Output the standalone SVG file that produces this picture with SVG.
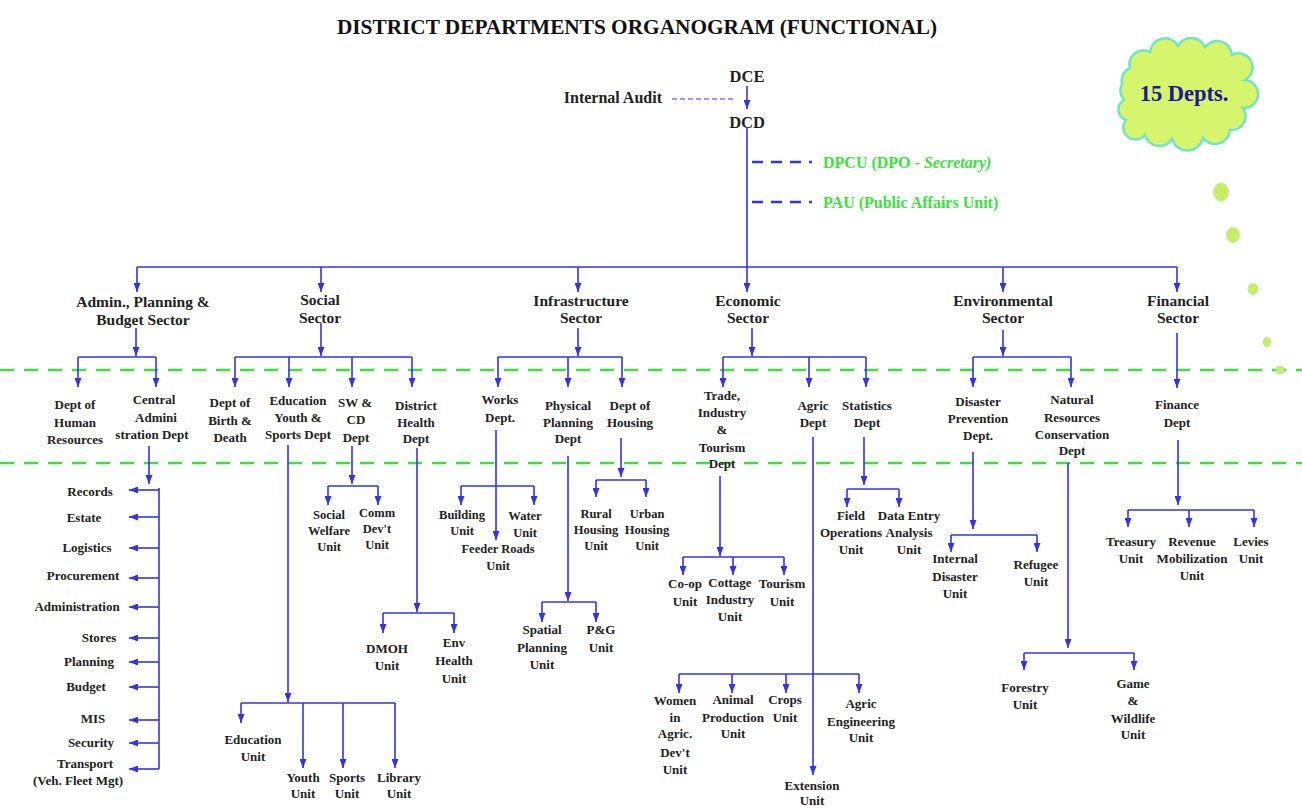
<svg xmlns="http://www.w3.org/2000/svg" width="1302" height="808" viewBox="0 0 1302 808">
<style>
.bg{fill:#fff}
.l{stroke:#3434e6;stroke-width:1.6;fill:none}
.a{marker-end:url(#ah)}
.dt{stroke:#3434e6;stroke-width:1.2;stroke-dasharray:5 3;fill:none}
.dk{stroke:#3434e6;stroke-width:2.4;stroke-dasharray:11 8;fill:none}
.band{stroke:#3ee03e;stroke-width:2.4;stroke-dasharray:14 10;fill:none}
text{font-family:"Liberation Serif","DejaVu Serif",serif;font-weight:bold;fill:#222}
.c{text-anchor:middle}
.r{text-anchor:end}
.ttl{font-size:21.3px;fill:#111}
.top{font-size:16.5px}
.ia{font-size:16px}
.s{font-size:15.5px}
.d{font-size:13px}
.u{font-size:12.5px}
.gr{font-size:16px;fill:#3ee03e}
.cl{fill:#d6f56c;stroke:#74e2c4;stroke-width:2.5}
.dot{fill:#c8ef5e;stroke:#b4ecb0;stroke-width:1}
.ct{font-size:22.5px;fill:#1a1a9a}
</style>
<defs>
<marker id="ah" markerUnits="userSpaceOnUse" markerWidth="9" markerHeight="7" viewBox="0 0 9 7" refX="9" refY="3.5" orient="auto"><path d="M0,0 L9,3.5 L0,7 z" fill="#3434e6"/></marker>
</defs>
<rect class="bg" x="0" y="0" width="1302" height="808"/>
<text class="ttl c" x="637" y="34">DISTRICT DEPARTMENTS ORGANOGRAM (FUNCTIONAL)</text>

<g id="bands">
<path class="band" d="M0,370 H1302"/>
<path class="band" d="M0,463 H1302"/>
</g>

<g id="cloud">
<path class="cl" d="M1124,100 A14,14 0 0 1 1122,84 A14,14 0 0 1 1130,68 A14,14 0 0 1 1150,52 A15,15 0 0 1 1178,46 A15,15 0 0 1 1205,47 A15,15 0 0 1 1232,55 A14,14 0 0 1 1245,80 A14,14 0 0 1 1243,108 A14,14 0 0 1 1230,130 A15,15 0 0 1 1203,138 A16,16 0 0 1 1172,139 A15,15 0 0 1 1145,135 A12,12 0 0 1 1126,120 A11,11 0 0 1 1124,100 Z"/>
<text class="ct c" x="1184" y="101">15 Depts.</text>
<ellipse class="dot" cx="1221" cy="192" rx="7.5" ry="9"/>
<ellipse class="dot" cx="1233" cy="235" rx="6.5" ry="7.5"/>
<ellipse class="dot" cx="1253" cy="289" rx="5" ry="5.5"/>
<ellipse class="dot" cx="1267" cy="342" rx="4" ry="4.5"/>
<ellipse class="dot" cx="1280" cy="370" rx="4" ry="4"/>
</g>

<g id="connectors">
<path class="l a" d="M747,86 V109"/>
<path class="dt" d="M672,99 H736"/>
<path class="l" d="M747,128 V267"/>
<path class="dk" d="M752,162 H812"/>
<path class="dk" d="M752,202 H812"/>
<path class="l" d="M137,267 H1177"/>
<path class="l a" d="M137,267 V292"/>
<path class="l a" d="M321,267 V292"/>
<path class="l a" d="M578,267 V292"/>
<path class="l a" d="M747,267 V292"/>
<path class="l a" d="M1003,267 V292"/>
<path class="l a" d="M1177,267 V292"/>

<path class="l a" d="M136,328 V356"/>
<path class="l" d="M78,357 H156"/>
<path class="l a" d="M78,357 V387"/>
<path class="l a" d="M156,357 V387"/>

<path class="l a" d="M321,323 V356"/>
<path class="l" d="M235,357 H412"/>
<path class="l a" d="M235,357 V387"/>
<path class="l a" d="M289,357 V387"/>
<path class="l a" d="M352,357 V387"/>
<path class="l a" d="M412,357 V387"/>

<path class="l a" d="M578,328 V356"/>
<path class="l" d="M498,357 H622"/>
<path class="l a" d="M498,357 V387"/>
<path class="l a" d="M568,357 V387"/>
<path class="l a" d="M622,357 V387"/>

<path class="l a" d="M752,328 V356"/>
<path class="l" d="M723,357 H866"/>
<path class="l a" d="M723,357 V387"/>
<path class="l a" d="M809,357 V387"/>
<path class="l a" d="M866,357 V387"/>

<path class="l a" d="M1003,330 V356"/>
<path class="l" d="M973,357 H1071"/>
<path class="l a" d="M973,357 V387"/>
<path class="l a" d="M1071,357 V387"/>

<path class="l a" d="M1177,333 V388"/>

<path class="l a" d="M149,446 V484"/>
<path class="l" d="M159,488 V769"/>
<path class="l a" d="M159,490 H129"/>
<path class="l a" d="M159,517 H129"/>
<path class="l a" d="M159,548 H129"/>
<path class="l a" d="M159,578 H129"/>
<path class="l a" d="M159,607 H129"/>
<path class="l a" d="M159,638 H129"/>
<path class="l a" d="M159,662 H129"/>
<path class="l a" d="M159,687 H129"/>
<path class="l a" d="M159,720 H129"/>
<path class="l a" d="M159,743 H129"/>
<path class="l a" d="M159,769 H129"/>

<path class="l a" d="M288,445 V702"/>
<path class="l" d="M241,703 H395"/>
<path class="l a" d="M241,703 V723"/>
<path class="l a" d="M303,703 V768"/>
<path class="l a" d="M343,703 V768"/>
<path class="l a" d="M395,703 V768"/>

<path class="l a" d="M352,446 V484"/>
<path class="l" d="M328,486 H378"/>
<path class="l a" d="M328,486 V505"/>
<path class="l a" d="M378,486 V505"/>

<path class="l a" d="M417,448 V612"/>
<path class="l" d="M383,613 H454"/>
<path class="l a" d="M383,613 V633"/>
<path class="l a" d="M454,613 V633"/>

<path class="l a" d="M496,430 V540"/>
<path class="l" d="M461,486 H534"/>
<path class="l a" d="M461,486 V505"/>
<path class="l a" d="M534,486 V505"/>

<path class="l a" d="M568,456 V601"/>
<path class="l" d="M542,602 H596"/>
<path class="l a" d="M542,602 V622"/>
<path class="l a" d="M596,602 V622"/>

<path class="l a" d="M621,438 V477"/>
<path class="l" d="M596,480 H646"/>
<path class="l a" d="M596,480 V497"/>
<path class="l a" d="M646,480 V497"/>

<path class="l a" d="M720,476 V556"/>
<path class="l" d="M683,557 H784"/>
<path class="l a" d="M683,557 V575"/>
<path class="l a" d="M733,557 V575"/>
<path class="l a" d="M784,557 V575"/>

<path class="l a" d="M813,437 V775"/>
<path class="l" d="M679,674 H859"/>
<path class="l a" d="M679,674 V693"/>
<path class="l a" d="M732,674 V693"/>
<path class="l a" d="M786,674 V693"/>
<path class="l a" d="M859,674 V693"/>

<path class="l a" d="M864,437 V485"/>
<path class="l" d="M847,489 H899"/>
<path class="l a" d="M847,489 V507"/>
<path class="l a" d="M899,489 V507"/>

<path class="l a" d="M973,452 V529"/>
<path class="l" d="M951,535 H1037"/>
<path class="l a" d="M951,535 V552"/>
<path class="l a" d="M1037,535 V552"/>

<path class="l a" d="M1068,463 V648"/>
<path class="l" d="M1024,653 H1134"/>
<path class="l a" d="M1024,653 V670"/>
<path class="l a" d="M1134,653 V670"/>

<path class="l a" d="M1178,440 V505"/>
<path class="l" d="M1128,510 H1254"/>
<path class="l a" d="M1128,510 V527"/>
<path class="l a" d="M1189,510 V527"/>
<path class="l a" d="M1254,510 V527"/>
</g>

<g id="dce"><text class="top c" x="747" y="82">DCE</text></g>
<g id="dcd"><text class="top c" x="747" y="128">DCD</text></g>
<g id="internal-audit"><text class="ia r" x="662" y="103">Internal Audit</text></g>
<g id="dpcu"><text class="gr" x="823" y="168">DPCU (DPO - <tspan font-style="italic">Secretary)</tspan></text></g>
<g id="pau"><text class="gr" x="823" y="208">PAU (Public Affairs Unit)</text></g>

<g id="sector-admin"><text class="s c"><tspan x="143" y="307">Admin.,  Planning &amp;</tspan><tspan x="143" y="325">Budget Sector</tspan></text></g>
<g id="sector-social"><text class="s c"><tspan x="320" y="305">Social</tspan><tspan x="320" y="323">Sector</tspan></text></g>
<g id="sector-infra"><text class="s c"><tspan x="581" y="306">Infrastructure</tspan><tspan x="581" y="323">Sector</tspan></text></g>
<g id="sector-economic"><text class="s c"><tspan x="748" y="306">Economic</tspan><tspan x="748" y="323">Sector</tspan></text></g>
<g id="sector-env"><text class="s c"><tspan x="1003" y="306">Environmental</tspan><tspan x="1003" y="323">Sector</tspan></text></g>
<g id="sector-fin"><text class="s c"><tspan x="1178" y="306">Financial</tspan><tspan x="1178" y="323">Sector</tspan></text></g>

<g id="dept-hr"><text class="d c"><tspan x="75" y="409">Dept of</tspan><tspan x="75" y="427">Human</tspan><tspan x="75" y="444">Resources</tspan></text></g>
<g id="dept-central"><text class="d c"><tspan x="154" y="404">Central</tspan><tspan x="156" y="422">Admini</tspan><tspan x="152" y="439">stration Dept</tspan></text></g>
<g id="dept-birth"><text class="d c"><tspan x="230" y="407">Dept of</tspan><tspan x="230" y="425">Birth &amp;</tspan><tspan x="230" y="442">Death</tspan></text></g>
<g id="dept-education"><text class="d c"><tspan x="298" y="405">Education</tspan><tspan x="298" y="422">Youth &amp;</tspan><tspan x="298" y="439">Sports Dept</tspan></text></g>
<g id="dept-swcd"><text class="d c"><tspan x="355" y="407">SW &amp;</tspan><tspan x="356" y="424">CD</tspan><tspan x="356" y="442">Dept</tspan></text></g>
<g id="dept-health"><text class="d c"><tspan x="416" y="410">District</tspan><tspan x="416" y="427">Health</tspan><tspan x="416" y="443">Dept</tspan></text></g>
<g id="dept-works"><text class="d c"><tspan x="500" y="404">Works</tspan><tspan x="500" y="422">Dept.</tspan></text></g>
<g id="dept-physical"><text class="d c"><tspan x="568" y="410">Physical</tspan><tspan x="568" y="427">Planning</tspan><tspan x="568" y="443">Dept</tspan></text></g>
<g id="dept-housing"><text class="d c"><tspan x="630" y="410">Dept of</tspan><tspan x="630" y="427">Housing</tspan></text></g>
<g id="dept-trade"><text class="d c"><tspan x="722" y="400">Trade,</tspan><tspan x="722" y="417">Industry</tspan><tspan x="722" y="434">&amp;</tspan><tspan x="722" y="452">Tourism</tspan><tspan x="722" y="468">Dept</tspan></text></g>
<g id="dept-agric"><text class="d c"><tspan x="813" y="410">Agric</tspan><tspan x="813" y="427">Dept</tspan></text></g>
<g id="dept-stats"><text class="d c"><tspan x="867" y="410">Statistics</tspan><tspan x="867" y="427">Dept</tspan></text></g>
<g id="dept-disaster"><text class="d c"><tspan x="978" y="406">Disaster</tspan><tspan x="978" y="423">Prevention</tspan><tspan x="978" y="440">Dept.</tspan></text></g>
<g id="dept-natural"><text class="d c"><tspan x="1072" y="404">Natural</tspan><tspan x="1072" y="422">Resources</tspan><tspan x="1072" y="439">Conservation</tspan><tspan x="1072" y="455">Dept</tspan></text></g>
<g id="dept-finance"><text class="d c"><tspan x="1177" y="409">Finance</tspan><tspan x="1177" y="427">Dept</tspan></text></g>

<g id="admin-units">
<text class="d c" x="90" y="496">Records</text>
<text class="d c" x="84" y="522">Estate</text>
<text class="d c" x="87" y="552">Logistics</text>
<text class="d c" x="83" y="580">Procurement</text>
<text class="d c" x="77" y="611">Administration</text>
<text class="d c" x="99" y="642">Stores</text>
<text class="d c" x="89" y="666">Planning</text>
<text class="d c" x="86" y="691">Budget</text>
<text class="d c" x="93" y="723">MIS</text>
<text class="d c" x="91" y="747">Security</text>
<text class="d c"><tspan x="85" y="768">Transport</tspan><tspan x="78" y="785">(Veh. Fleet Mgt)</tspan></text>
</g>

<g id="unit-education"><text class="d c"><tspan x="253" y="744">Education</tspan><tspan x="253" y="761">Unit</tspan></text></g>
<g id="unit-youth"><text class="d c"><tspan x="303" y="782">Youth</tspan><tspan x="303" y="798">Unit</tspan></text></g>
<g id="unit-sports"><text class="d c"><tspan x="347" y="782">Sports</tspan><tspan x="347" y="798">Unit</tspan></text></g>
<g id="unit-library"><text class="d c"><tspan x="399" y="782">Library</tspan><tspan x="399" y="798">Unit</tspan></text></g>
<g id="unit-socialwelfare"><text class="u c"><tspan x="329" y="519">Social</tspan><tspan x="329" y="535">Welfare</tspan><tspan x="329" y="551">Unit</tspan></text></g>
<g id="unit-commdev"><text class="u c"><tspan x="377" y="517">Comm</tspan><tspan x="377" y="533">Dev't</tspan><tspan x="377" y="549">Unit</tspan></text></g>
<g id="unit-dmoh"><text class="d c"><tspan x="387" y="653">DMOH</tspan><tspan x="387" y="670">Unit</tspan></text></g>
<g id="unit-envhealth"><text class="d c"><tspan x="454" y="647">Env</tspan><tspan x="454" y="665">Health</tspan><tspan x="454" y="683">Unit</tspan></text></g>
<g id="unit-building"><text class="u c"><tspan x="462" y="519">Building</tspan><tspan x="462" y="535">Unit</tspan></text></g>
<g id="unit-water"><text class="u c"><tspan x="525" y="520">Water</tspan><tspan x="525" y="537">Unit</tspan></text></g>
<g id="unit-feeder"><text class="u c"><tspan x="498" y="553">Feeder Roads</tspan><tspan x="498" y="570">Unit</tspan></text></g>
<g id="unit-rural"><text class="u c"><tspan x="596" y="518">Rural</tspan><tspan x="596" y="534">Housing</tspan><tspan x="596" y="550">Unit</tspan></text></g>
<g id="unit-urban"><text class="u c"><tspan x="647" y="518">Urban</tspan><tspan x="647" y="534">Housing</tspan><tspan x="647" y="550">Unit</tspan></text></g>
<g id="unit-spatial"><text class="d c"><tspan x="542" y="634">Spatial</tspan><tspan x="542" y="652">Planning</tspan><tspan x="542" y="669">Unit</tspan></text></g>
<g id="unit-pg"><text class="d c"><tspan x="601" y="634">P&amp;G</tspan><tspan x="601" y="652">Unit</tspan></text></g>
<g id="unit-coop"><text class="d c"><tspan x="685" y="588">Co-op</tspan><tspan x="685" y="606">Unit</tspan></text></g>
<g id="unit-cottage"><text class="d c"><tspan x="730" y="587">Cottage</tspan><tspan x="730" y="604">Industry</tspan><tspan x="730" y="621">Unit</tspan></text></g>
<g id="unit-tourism"><text class="d c"><tspan x="782" y="588">Tourism</tspan><tspan x="782" y="606">Unit</tspan></text></g>
<g id="unit-women"><text class="d c"><tspan x="675" y="705">Women</tspan><tspan x="675" y="722">in</tspan><tspan x="675" y="738">Agric.</tspan><tspan x="675" y="757">Dev't</tspan><tspan x="675" y="774">Unit</tspan></text></g>
<g id="unit-animal"><text class="d c"><tspan x="733" y="704">Animal</tspan><tspan x="733" y="722">Production</tspan><tspan x="733" y="738">Unit</tspan></text></g>
<g id="unit-crops"><text class="d c"><tspan x="785" y="704">Crops</tspan><tspan x="785" y="722">Unit</tspan></text></g>
<g id="unit-agriceng"><text class="d c"><tspan x="861" y="708">Agric</tspan><tspan x="861" y="726">Engineering</tspan><tspan x="861" y="742">Unit</tspan></text></g>
<g id="unit-extension"><text class="d c"><tspan x="812" y="790">Extension</tspan><tspan x="812" y="805">Unit</tspan></text></g>
<g id="unit-field"><text class="d c"><tspan x="851" y="520">Field</tspan><tspan x="851" y="537">Operations</tspan><tspan x="851" y="554">Unit</tspan></text></g>
<g id="unit-dataentry"><text class="d c"><tspan x="909" y="520">Data Entry</tspan><tspan x="909" y="537">Analysis</tspan><tspan x="909" y="554">Unit</tspan></text></g>
<g id="unit-internal"><text class="d c"><tspan x="955" y="563">Internal</tspan><tspan x="955" y="581">Disaster</tspan><tspan x="955" y="598">Unit</tspan></text></g>
<g id="unit-refugee"><text class="d c"><tspan x="1036" y="569">Refugee</tspan><tspan x="1036" y="586">Unit</tspan></text></g>
<g id="unit-forestry"><text class="d c"><tspan x="1025" y="692">Forestry</tspan><tspan x="1025" y="709">Unit</tspan></text></g>
<g id="unit-game"><text class="d c"><tspan x="1133" y="688">Game</tspan><tspan x="1133" y="705">&amp;</tspan><tspan x="1133" y="723">Wildlife</tspan><tspan x="1133" y="739">Unit</tspan></text></g>
<g id="unit-treasury"><text class="d c"><tspan x="1131" y="546">Treasury</tspan><tspan x="1131" y="563">Unit</tspan></text></g>
<g id="unit-revenue"><text class="d c"><tspan x="1192" y="546">Revenue</tspan><tspan x="1192" y="563">Mobilization</tspan><tspan x="1192" y="580">Unit</tspan></text></g>
<g id="unit-levies"><text class="d c"><tspan x="1251" y="546">Levies</tspan><tspan x="1251" y="563">Unit</tspan></text></g>
</svg>
